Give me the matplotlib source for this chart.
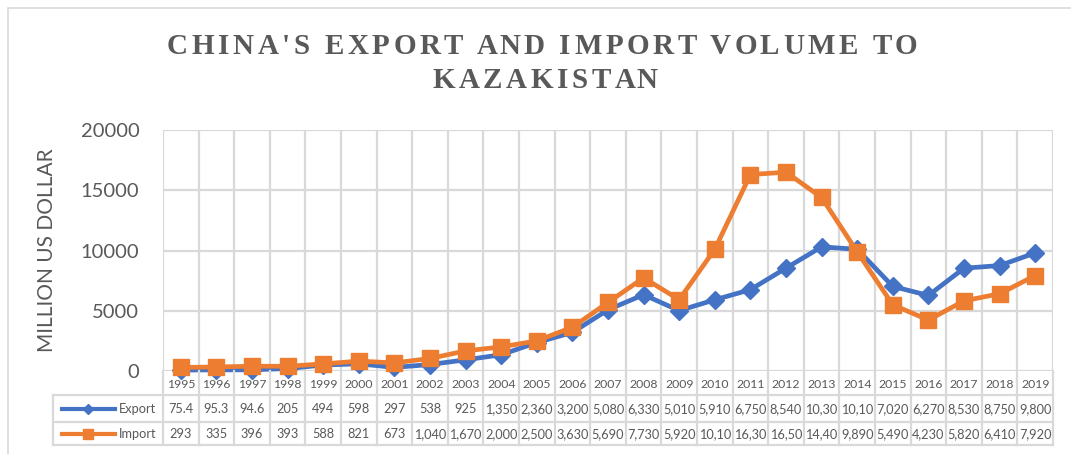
import matplotlib
matplotlib.use("Agg")
import matplotlib.pyplot as plt
from matplotlib.lines import Line2D
from matplotlib.patches import Rectangle
from matplotlib.font_manager import FontProperties
import matplotlib.transforms as mtransforms

years = [str(y) for y in range(1995, 2020)]
export = [75.4, 95.3, 94.6, 205, 494, 598, 297, 538, 925, 1350, 2360, 3200, 5080,
          6330, 5010, 5910, 6750, 8540, 10300, 10100, 7020, 6270, 8530, 8750, 9800]
imports = [293, 335, 396, 393, 588, 821, 673, 1040, 1670, 2000, 2500, 3630, 5690,
           7730, 5920, 10100, 16300, 16500, 14400, 9890, 5490, 4230, 5820, 6410, 7920]
export_labels = ["75.4", "95.3", "94.6", "205", "494", "598", "297", "538", "925", "1,350",
                 "2,360", "3,200", "5,080", "6,330", "5,010", "5,910", "6,750", "8,540",
                 "10,30", "10,10", "7,020", "6,270", "8,530", "8,750", "9,800"]
import_labels = ["293", "335", "396", "393", "588", "821", "673", "1,040", "1,670", "2,000",
                 "2,500", "3,630", "5,690", "7,730", "5,920", "10,10", "16,30", "16,50",
                 "14,40", "9,890", "5,490", "4,230", "5,820", "6,410", "7,920"]
yticks = [0, 5000, 10000, 15000, 20000]
title_lines = ["CHINA'S EXPORT AND IMPORT VOLUME TO", "KAZAKISTAN"]

W, H = 1071, 454
BLUE = "#4472C4"
ORANGE = "#ED7D31"
GRID = "#D9D9D9"
TXT = "#595959"
FONT = ["Lato", "DejaVu Sans"]

fig = plt.figure(figsize=(W / 100, H / 100), dpi=100)
fig.patch.set_facecolor("white")

def fx(px):
    return px / W

def fy(py):
    return 1 - py / H

# outer frame
fig.add_artist(Rectangle((fx(8), fy(H + 5)), fx(W + 10), fy(8) - fy(H + 5),
                         transform=fig.transFigure, fill=False, edgecolor="#D9D9D9", lw=1.2))

L, R, T, B = 163, 1053, 130, 371
ax = fig.add_axes([fx(L), fy(B), fx(R - L), fy(T) - fy(B)])
n = len(years)
x = list(range(n))
ax.set_xlim(-0.5, n - 0.5)
ax.set_ylim(0, 20000)
for s in ax.spines.values():
    s.set_visible(False)
ax.set_xticks([i - 0.5 for i in range(n + 1)])
ax.set_xticklabels([])
ax.tick_params(axis="x", length=0)
ax.set_yticks(yticks)
ax.set_yticklabels([str(v) for v in yticks], fontsize=14.5, color=TXT, fontfamily=FONT)
ax.tick_params(axis="y", length=0, pad=17)
ax.grid(True, color=GRID, lw=1.6)
ax.set_axisbelow(True)
ax.set_ylabel("MILLION US DOLLAR", fontsize=15, color=TXT, fontfamily=FONT)
ax.yaxis.set_label_coords((57.5 - L) / (R - L), 0.5)

ax.plot(x, export, color=BLUE, lw=3.4, marker="D", markersize=8.8, zorder=3, clip_on=False)
ax.plot(x, imports, color=ORANGE, lw=3.4, marker="s", markersize=11.5, zorder=4, clip_on=False)

# data table
bt = mtransforms.blended_transform_factory(ax.transData, fig.transFigure)
rows_y = [371, 395, 422, 445]
for i in range(n + 1):
    fig.add_artist(Line2D([i - 0.5, i - 0.5], [fy(371), fy(445)], transform=bt,
                          color=GRID, lw=1.6, zorder=1))
for yy in rows_y[1:]:
    fig.add_artist(Line2D([fx(53), fx(R)], [fy(yy), fy(yy)], transform=fig.transFigure,
                          color=GRID, lw=1.6))
fig.add_artist(Line2D([fx(53), fx(53)], [fy(395), fy(445)], transform=fig.transFigure,
                      color=GRID, lw=1.6))

for i in range(n):
    fig.text(i, fy(384), years[i], transform=bt, ha="center", va="center",
             fontsize=8.8, color=TXT, fontfamily=FONT)
    fig.text(i, fy(409), export_labels[i], transform=bt, ha="center", va="center",
             fontsize=9.2, color=TXT, fontfamily=FONT)
    fig.text(i, fy(434), import_labels[i], transform=bt, ha="center", va="center",
             fontsize=9.2, color=TXT, fontfamily=FONT)

# legend keys in table
for yy, col, mk, ms, lab in [(409, BLUE, "D", 5, "Export"), (434, ORANGE, "s", 7.5, "Import")]:
    fig.add_artist(Line2D([fx(62), fx(115)], [fy(yy), fy(yy)], transform=fig.transFigure,
                          color=col, lw=3))
    fig.add_artist(Line2D([fx(88)], [fy(yy)], transform=fig.transFigure, color=col,
                          marker=mk, markersize=ms, lw=0))
    fig.text(fx(119), fy(yy), lab, ha="left", va="center", fontsize=9.2, color=TXT,
             fontfamily=FONT)

# title with letter tracking
prop = FontProperties(family=["Liberation Serif", "DejaVu Serif"], weight="bold", size=21)
renderer = fig.canvas.get_renderer()

def tw(s):
    if not s:
        return 0.0
    return renderer.get_text_width_height_descent(s + "|", prop, ismath=False)[0] - \
        renderer.get_text_width_height_descent("|", prop, ismath=False)[0]

line0 = title_lines[0]
track = (750 - tw(line0)) / (len(line0) - 1)

def draw_tracked(s, cx, cy):
    total = tw(s) + track * (len(s) - 1)
    x0 = cx - total / 2
    for k, ch in enumerate(s):
        if ch == " ":
            continue
        px = x0 + tw(s[:k]) + track * k
        fig.text(fx(px), fy(cy), ch, fontproperties=prop, color=TXT, ha="left", va="center")

draw_tracked(title_lines[0], 542, 47)
draw_tracked(title_lines[1], 545, 81)

fig.savefig("out.png", dpi=100, facecolor="white")
